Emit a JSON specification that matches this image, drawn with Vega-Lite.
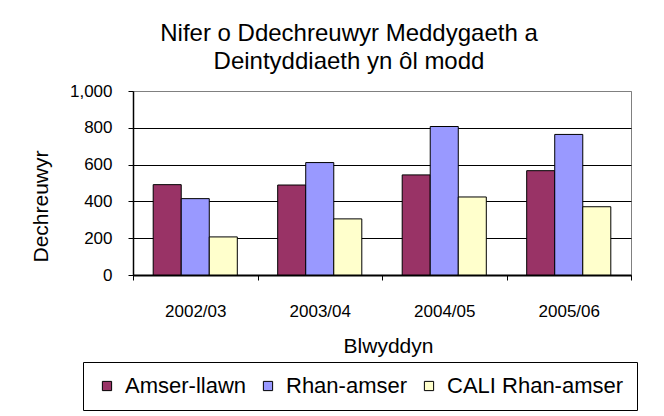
{
  "$schema": "https://vega.github.io/schema/vega-lite/v6.json",
  "width": 498,
  "height": 184,
  "autosize": {"type": "none"},
  "padding": {"left": 133, "top": 91, "right": 33, "bottom": 141},
  "background": "white",
  "title": {
    "text": ["Nifer o Ddechreuwyr Meddygaeth a", "Deintyddiaeth yn ôl modd"],
    "font": "Liberation Sans",
    "fontSize": 24,
    "fontWeight": "normal",
    "color": "black",
    "lineHeight": 28,
    "anchor": "middle",
    "frame": "group",
    "dx": -33,
    "offset": 8
  },
  "data": {
    "values": [
      {"year": "2002/03", "mode": "Amser-llawn", "value": 491},
      {"year": "2002/03", "mode": "Rhan-amser", "value": 415},
      {"year": "2002/03", "mode": "CALI Rhan-amser", "value": 207},
      {"year": "2003/04", "mode": "Amser-llawn", "value": 489},
      {"year": "2003/04", "mode": "Rhan-amser", "value": 611},
      {"year": "2003/04", "mode": "CALI Rhan-amser", "value": 305},
      {"year": "2004/05", "mode": "Amser-llawn", "value": 544},
      {"year": "2004/05", "mode": "Rhan-amser", "value": 807},
      {"year": "2004/05", "mode": "CALI Rhan-amser", "value": 424},
      {"year": "2005/06", "mode": "Amser-llawn", "value": 567},
      {"year": "2005/06", "mode": "Rhan-amser", "value": 764},
      {"year": "2005/06", "mode": "CALI Rhan-amser", "value": 371}
    ]
  },
  "mark": {"type": "bar", "stroke": "black", "strokeWidth": 1},
  "encoding": {
    "x": {
      "field": "year",
      "type": "nominal",
      "scale": {"paddingInner": 0, "paddingOuter": 0},
      "axis": {
        "title": "Blwyddyn",
        "labelAngle": 0,
        "tickBand": "extent",
        "tickSize": 5,
        "tickColor": "black",
        "domainColor": "black",
        "domainWidth": 2,
        "labelFont": "Liberation Sans",
        "labelFontSize": 17,
        "labelColor": "black",
        "labelPadding": 23,
        "titleFont": "Liberation Sans",
        "titleFontSize": 21,
        "titleFontWeight": "normal",
        "titleColor": "black",
        "titleX": 255,
        "titleY": 71,
        "titleBaseline": "middle",
        "titleAlign": "center"
      }
    },
    "xOffset": {
      "field": "mode",
      "type": "nominal",
      "sort": ["Amser-llawn", "Rhan-amser", "CALI Rhan-amser"],
      "scale": {"paddingInner": 0, "paddingOuter": 0.72}
    },
    "y": {
      "field": "value",
      "type": "quantitative",
      "scale": {"domain": [0, 1000], "nice": false},
      "axis": {
        "title": "Dechreuwyr",
        "values": [0, 200, 400, 600, 800, 1000],
        "format": ",.0f",
        "tickSize": 5,
        "tickColor": "black",
        "domainColor": "black",
        "domainWidth": 1.5,
        "grid": true,
        "gridColor": {"condition": {"test": "datum.value === 1000", "value": "#808080"}, "value": "black"},
        "gridWidth": 1,
        "labelFont": "Liberation Sans",
        "labelFontSize": 17,
        "labelColor": "black",
        "labelPadding": 16,
        "titleFont": "Liberation Sans",
        "titleFontSize": 21,
        "titleFontWeight": "normal",
        "titleColor": "black",
        "titleAngle": -90,
        "titleX": -92,
        "titleY": 115,
        "titleBaseline": "middle",
        "titleAlign": "center"
      }
    },
    "color": {
      "field": "mode",
      "type": "nominal",
      "sort": ["Amser-llawn", "Rhan-amser", "CALI Rhan-amser"],
      "scale": {
        "domain": ["Amser-llawn", "Rhan-amser", "CALI Rhan-amser"],
        "range": ["#993366", "#9999FF", "#FFFFCC"]
      },
      "legend": {
        "title": null,
        "orient": "none",
        "direction": "horizontal",
        "legendX": -50,
        "legendY": 271,
        "symbolType": "square",
        "symbolSize": 85,
        "symbolStrokeColor": "black",
        "symbolStrokeWidth": 1,
        "symbolOpacity": 1,
        "labelFont": "Liberation Sans",
        "labelFontSize": 22,
        "labelColor": "black",
        "labelLimit": 400,
        "labelOffset": 7,
        "columnPadding": 10,
        "padding": 13,
        "strokeColor": "black",
        "fillColor": "white"
      }
    }
  },
  "config": {
    "view": {"stroke": "#808080", "strokeWidth": 1},
    "legend": {"symbolBaseFillColor": "white"}
  }
}
